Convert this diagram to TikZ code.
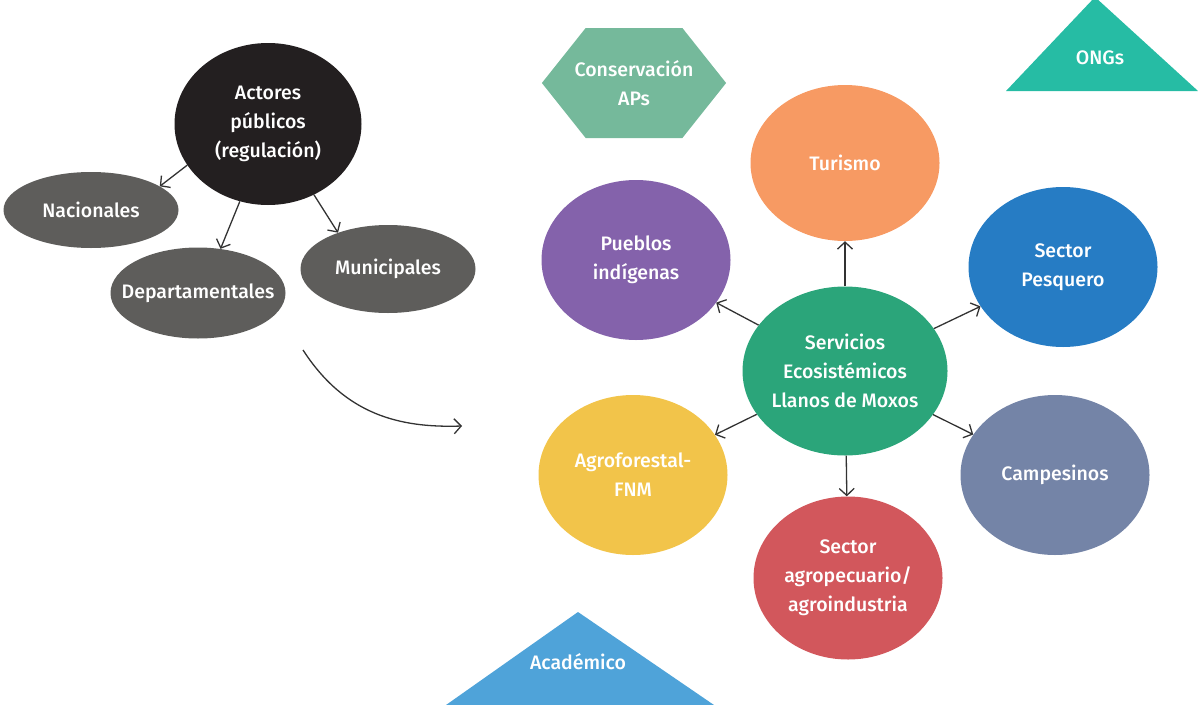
\documentclass[tikz,border=0pt]{standalone}
\usepackage{fontspec}
\setmainfont{Fira Sans}[UprightFont=* Medium]
\usetikzlibrary{shapes.geometric,shapes.symbols,positioning,arrows.meta}

\definecolor{actcol}{HTML}{231F20}
\definecolor{subcol}{HTML}{5E5D5B}
\definecolor{servcol}{HTML}{2BA57A}
\definecolor{turcol}{HTML}{F79A63}
\definecolor{puecol}{HTML}{8462AB}
\definecolor{pescol}{HTML}{267CC4}
\definecolor{agfcol}{HTML}{F2C44A}
\definecolor{camcol}{HTML}{7484A7}
\definecolor{agrcol}{HTML}{D2575C}
\definecolor{conscol}{HTML}{75B99B}
\definecolor{ongcol}{HTML}{26BCA4}
\definecolor{acacol}{HTML}{4FA3D9}
\definecolor{linecol}{HTML}{333333}

\begin{document}
\begin{tikzpicture}[x=1pt,y=-1pt,on grid,
    >={Straight Barb[length=7pt,width=15pt]},
    txt/.style={text=white,align=center,inner sep=0pt,font=\fontsize{19.5}{28.8}\selectfont},
    elli/.style={ellipse,txt,inner sep=-22pt},
    subact/.style={elli,fill=subcol,minimum width=175pt,minimum height=88pt},
    bigell/.style={elli,minimum width=189pt,minimum height=160pt},
    link/.style={->,draw=linecol,line width=1.3pt}]
  \useasboundingbox (0,0) rectangle (1198,704);
  \clip (0,0) rectangle (1198,704);

  % public actors
  \node[elli,fill=actcol,minimum width=187pt,minimum height=162pt] (act) at (268,124) {Actores\\públicos\\(regulación)};
  \node[subact,minimum height=76pt] (nac) [below left=86pt and 177pt of act] {Nacionales};
  \node[subact,minimum height=91pt] (dep) [below left=169pt and 70pt of act] {Departamentales};
  \node[subact] (mun) [below right=145pt and 120pt of act] {Municipales};

  \draw[link] (act.207) -- (nac.19);
  \draw[link] (act.250) -- (dep.63);
  \draw[link] (act.303) -- (mun.144);

  \coordinate (cs) at (303,350);
  \coordinate (ce) at (462,426);
  \draw[link] (cs) .. controls (345,415) and (400,428) .. (ce);

  % ecosystem services
  \node[elli,fill=servcol,minimum width=205pt,minimum height=169pt] (serv) at (845,371) {Servicios\\Ecosistémicos\\Llanos de Moxos};
  \node[bigell,fill=turcol,minimum height=156pt] (tur) [above=208pt of serv] {Turismo};
  \node[bigell,fill=puecol] (pue) [above left=111pt and 209pt of serv] {Pueblos\\indígenas};
  \node[bigell,fill=pescol] (pes) [above right=104pt and 218pt of serv] {Sector\\Pesquero};
  \node[bigell,fill=agfcol] (agf) [below left=104pt and 212pt of serv] {Agroforestal-\\FNM};
  \node[bigell,fill=camcol] (cam) [below right=104pt and 210pt of serv] {Campesinos};
  \node[bigell,fill=agrcol,minimum height=163pt] (agr) [below right=207pt and 3pt of serv] {Sector\\agropecuario/\\agroindustria};

  \foreach \n in {tur,pue,pes,agf,cam,agr}
    \draw[link] (serv) -- (\n);

  % other actors
  \node[signal,signal to=east and west,signal pointer angle=103,fill=conscol,txt,
        inner xsep=-11pt,minimum height=110pt] (cons) at (634,83) {Conservación\\APs};
  \fill[ongcol] (1006,91) -- (1095,-3) -- (1198,91) -- cycle;
  \node[txt] (ong) at (1100,58) {ONGs};
  \fill[acacol] (446,705) -- (578,612) -- (714,705) -- cycle;
  \node[txt] (aca) at (578,662) {Académico};
\end{tikzpicture}
\end{document}
